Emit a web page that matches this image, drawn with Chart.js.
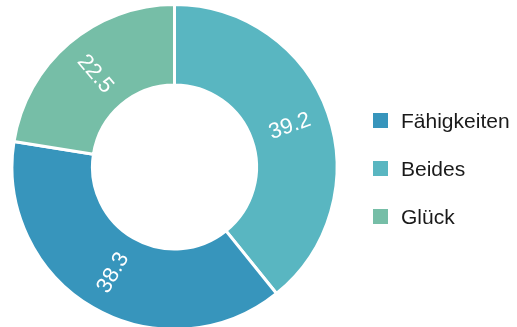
<!DOCTYPE html>
<html>
<head>
<meta charset="utf-8">
<script src="https://cdn.jsdelivr.net/npm/chart.js@4"></script>
<style>
  html, body { margin: 0; padding: 0; background: #fff; overflow: hidden; }
  #wrap { position: absolute; left: 0; top: 0; width: 517px; height: 334px; }
</style>
</head>
<body>
<div id="wrap"><canvas id="chart"></canvas></div>
<script>
// Segmente im Uhrzeigersinn ab 12 Uhr
const labels = ['Beides', 'Fähigkeiten', 'Glück'];
const values = [39.2, 38.3, 22.5];
const colors = ['#59b6c1', '#3795bc', '#76bea7'];
// Reihenfolge in der Legende
const legendOrder = ['Fähigkeiten', 'Beides', 'Glück'];

const fontFamily = '"Liberation Sans", Arial, sans-serif';

// Werte gedreht in die Ringmitte schreiben
const valueLabels = {
    id: 'valueLabels',
    afterDatasetsDraw(chart) {
        const ctx = chart.ctx;
        const meta = chart.getDatasetMeta(0);
        ctx.save();
        ctx.fillStyle = '#ffffff';
        ctx.font = '22px ' + fontFamily;
        ctx.textAlign = 'center';
        ctx.textBaseline = 'middle';
        meta.data.forEach((arc, i) => {
            const p = arc.getProps(['x', 'y', 'startAngle', 'endAngle', 'innerRadius', 'outerRadius'], true);
            const mid = (p.startAngle + p.endAngle) / 2;
            const r = (p.innerRadius + p.outerRadius) / 2;
            let rot = mid;
            while (rot > Math.PI / 2) rot -= Math.PI;
            while (rot <= -Math.PI / 2) rot += Math.PI;
            ctx.save();
            ctx.translate(p.x + Math.cos(mid) * r, p.y + Math.sin(mid) * r);
            ctx.rotate(rot);
            ctx.fillText(values[i].toFixed(1), 0, 0);
            ctx.restore();
        });
        ctx.restore();
    }
};

// Legende rechts
const sideLegend = {
    id: 'sideLegend',
    afterDraw(chart) {
        const ctx = chart.ctx;
        ctx.save();
        ctx.font = '21px ' + fontFamily;
        ctx.textBaseline = 'alphabetic';
        legendOrder.forEach((name, k) => {
            const i = labels.indexOf(name);
            const base = 128 + k * 48;
            ctx.fillStyle = colors[i];
            ctx.fillRect(373, base - 15, 15, 15);
            ctx.fillStyle = '#1a1a1a';
            ctx.fillText(name, 401, base);
        });
        ctx.restore();
    }
};

const ctx = document.getElementById('chart').getContext('2d');
new Chart(ctx, {
    type: 'doughnut',
    data: {
        labels: labels,
        datasets: [{
            data: values,
            backgroundColor: colors,
            borderColor: '#ffffff',
            borderWidth: 3
        }]
    },
    options: {
        responsive: true,
        maintainAspectRatio: false,
        animation: false,
        cutout: '50.5%',
        layout: { padding: { left: 10.5, right: 178.5, top: 3, bottom: 3 } },
        plugins: {
            legend: { display: false },
            tooltip: { enabled: false }
        }
    },
    plugins: [valueLabels, sideLegend]
});
</script>
</body>
</html>
